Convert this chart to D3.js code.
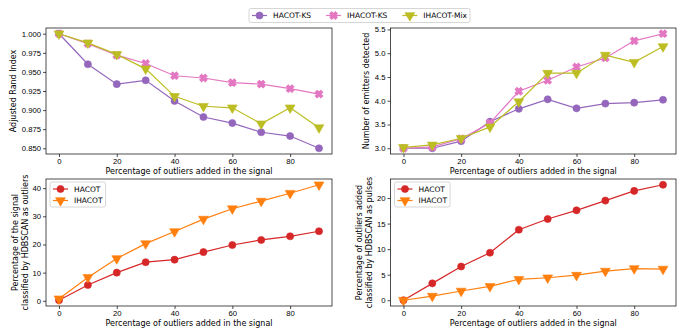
<!DOCTYPE html>
<html>
<head>
<meta charset="utf-8">
<script src="https://cdn.jsdelivr.net/npm/d3@7/dist/d3.min.js"></script>
<style>
  body { margin: 0; background: #fff; }
  svg { display: block; font-family: "DejaVu Sans", sans-serif; }
  .tick text { font-size: 7.7px; fill: #000; }
  .tick line { stroke: #000; stroke-width: 0.7; }
  .domain { display: none; }
  .label { font-size: 8px; fill: #000; }
  .leg text { font-size: 7.5px; fill: #000; }
</style>
</head>
<body>
<script>
var width = 682,
    height = 328;

// x values shared by all panels
var outlierPct = [0, 10, 20, 30, 40, 50, 60, 70, 80, 90];
var xTicks = [0, 20, 40, 60, 80];

// top left: adjusted rand index
var ariHacotKs  = [1.000, 0.960, 0.934, 0.939, 0.912, 0.891, 0.883, 0.871, 0.866, 0.850];
var ariIhacotKs = [1.000, 0.987, 0.972, 0.961, 0.945, 0.942, 0.936, 0.934, 0.928, 0.921];
var ariIhacotMix = [1.000, 0.988, 0.973, 0.954, 0.918, 0.905, 0.903, 0.882, 0.903, 0.877];
var ariTicks = [0.850, 0.875, 0.900, 0.925, 0.950, 0.975, 1.000];

// top right: number of emitters detected
var emHacotKs  = [3.00, 3.00, 3.15, 3.56, 3.83, 4.03, 3.84, 3.94, 3.96, 4.02];
var emIhacotKs = [3.00, 3.03, 3.20, 3.53, 4.20, 4.43, 4.71, 4.90, 5.26, 5.41];
var emIhacotMix = [3.02, 3.07, 3.21, 3.45, 3.98, 4.58, 4.58, 4.96, 4.81, 5.14];
var emTicks = [3.0, 3.5, 4.0, 4.5, 5.0, 5.5];

// bottom left: % of signal classified as outliers
var sigHacot  = [0.2, 5.6, 10.0, 13.7, 14.6, 17.3, 19.8, 21.6, 22.9, 24.7];
var sigIhacot = [0.7, 8.3, 15.0, 20.3, 24.6, 29.0, 32.7, 35.4, 38.2, 41.2];
var sigTicks = [0, 10, 20, 30, 40];

// bottom right: % of outliers classified as pulses
var pulHacot  = [0.0, 3.3, 6.6, 9.3, 13.8, 15.9, 17.6, 19.5, 21.4, 22.6];
var pulIhacot = [0.0, 0.8, 1.8, 2.7, 4.1, 4.4, 4.9, 5.7, 6.2, 6.1];
var pulTicks = [0, 5, 10, 15, 20];

var topSeries = ['HACOT-KS', 'IHACOT-KS', 'IHACOT-Mix'];
var bottomSeries = ['HACOT', 'IHACOT'];

var styles = {
    'HACOT-KS':   { color: '#9467bd', marker: 'o' },
    'IHACOT-KS':  { color: '#e377c2', marker: 'X' },
    'IHACOT-Mix': { color: '#bcbd22', marker: 'v' },
    'HACOT':      { color: '#d62728', marker: 'o' },
    'IHACOT':     { color: '#ff7f0e', marker: 'v' }
};

var xLabel = 'Percentage of outliers added in the signal';

var panels = [
    { box: [46, 28, 332, 154], series: topSeries, values: [ariHacotKs, ariIhacotKs, ariIhacotMix],
      yTicks: ariTicks, fmt: '.3f', yLabel: ['Adjusted Rand Index'], labelX: 13, legend: false },
    { box: [390.5, 28, 676, 154], series: topSeries, values: [emHacotKs, emIhacotKs, emIhacotMix],
      yTicks: emTicks, fmt: '.1f', yLabel: ['Number of emitters detected'], labelX: 366, legend: false },
    { box: [46, 179, 332, 306], series: bottomSeries, values: [sigHacot, sigIhacot],
      yTicks: sigTicks, fmt: 'd', yLabel: ['Percentage of the signal', 'classified by HDBSCAN as outliers'], labelX: 15, legend: true },
    { box: [390.5, 179, 676, 306], series: bottomSeries, values: [pulHacot, pulIhacot],
      yTicks: pulTicks, fmt: 'd', yLabel: ['Percentage of outliers added', 'classified by HDBSCAN as pulses'], labelX: 359, legend: true }
];

var svg = d3.select('body')
    .append('svg')
    .attr('width', width)
    .attr('height', height);

svg.append('rect')
    .attr('width', width)
    .attr('height', height)
    .attr('fill', '#fff');

function markerPath(type) {
    if (type === 'o') return d3.symbol(d3.symbolCircle, 40)();
    if (type === 'v') return d3.symbol(d3.symbolTriangle, 42)();
    return d3.symbol(d3.symbolCross, 34)();
}
function markerRotate(type) {
    if (type === 'v') return 180;
    if (type === 'X') return 45;
    return 0;
}

function drawMarker(g, name, x, y) {
    var s = styles[name];
    g.append('path')
        .attr('d', markerPath(s.marker))
        .attr('transform', 'translate(' + x + ',' + y + ') rotate(' + markerRotate(s.marker) + ')')
        .attr('fill', s.color)
        .attr('stroke', s.color)
        .attr('stroke-width', s.marker === 'X' ? 1 : 0.6);
}

function pad(ext) {
    var m = (ext[1] - ext[0]) * 0.05;
    return [ext[0] - m, ext[1] + m];
}

panels.forEach(function(p) {
    var x0 = p.box[0], y0 = p.box[1], x1 = p.box[2], y1 = p.box[3];
    var g = svg.append('g');

    var x = d3.scaleLinear()
        .domain(pad(d3.extent(outlierPct)))
        .range([x0, x1]);
    var y = d3.scaleLinear()
        .domain(pad(d3.extent(d3.merge(p.values))))
        .range([y1, y0]);

    g.append('g')
        .attr('transform', 'translate(0,' + y1 + ')')
        .call(d3.axisBottom(x).tickValues(xTicks).tickSize(3).tickPadding(2).tickFormat(d3.format('d')));
    g.append('g')
        .attr('transform', 'translate(' + x0 + ',0)')
        .call(d3.axisLeft(y).tickValues(p.yTicks).tickSize(3).tickPadding(2).tickFormat(d3.format(p.fmt)));

    var line = d3.line()
        .x(function(d, i) { return x(outlierPct[i]); })
        .y(function(d) { return y(d); });

    p.values.forEach(function(vals, k) {
        var name = p.series[k];
        g.append('path')
            .datum(vals)
            .attr('d', line)
            .attr('fill', 'none')
            .attr('stroke', styles[name].color)
            .attr('stroke-width', 1.2);
        vals.forEach(function(v, i) {
            drawMarker(g, name, x(outlierPct[i]), y(v));
        });
    });

    g.append('rect')
        .attr('x', x0)
        .attr('y', y0)
        .attr('width', x1 - x0)
        .attr('height', y1 - y0)
        .attr('fill', 'none')
        .attr('stroke', '#000')
        .attr('stroke-width', 0.7);

    g.append('text')
        .attr('class', 'label')
        .attr('x', (x0 + x1) / 2)
        .attr('y', y1 + 19.5)
        .attr('text-anchor', 'middle')
        .text(xLabel);

    var cy = (y0 + y1) / 2;
    p.yLabel.forEach(function(t, j) {
        g.append('text')
            .attr('class', 'label')
            .attr('transform', 'translate(' + (p.labelX + j * 10 + 3) + ',' + cy + ') rotate(-90)')
            .attr('text-anchor', 'middle')
            .text(t);
    });

    if (p.legend) {
        var leg = g.append('g').attr('class', 'leg');
        var lx = x0 + 4, ly = y0 + 3;
        var box = leg.append('rect')
            .attr('x', lx)
            .attr('y', ly)
            .attr('rx', 2)
            .attr('fill', '#fff')
            .attr('fill-opacity', 0.8)
            .attr('stroke', '#ccc')
            .attr('stroke-width', 0.8);
        var maxw = 0;
        p.series.forEach(function(name, j) {
            var yy = ly + 7 + j * 11.5;
            leg.append('line')
                .attr('x1', lx + 3).attr('x2', lx + 18)
                .attr('y1', yy).attr('y2', yy)
                .attr('stroke', styles[name].color)
                .attr('stroke-width', 1.2);
            drawMarker(leg, name, lx + 10.5, yy);
            var t = leg.append('text')
                .attr('x', lx + 24)
                .attr('y', yy + 2.8)
                .text(name);
            maxw = Math.max(maxw, t.node().getComputedTextLength());
        });
        box.attr('width', 24 + maxw + 3).attr('height', p.series.length * 11.5 + 2);
    }
});

// shared legend at the top
var topLeg = svg.append('g').attr('class', 'leg');
var tbox = topLeg.append('rect')
    .attr('x', 249)
    .attr('y', 8.5)
    .attr('height', 14)
    .attr('rx', 2)
    .attr('fill', '#fff')
    .attr('stroke', '#ccc')
    .attr('stroke-width', 0.8);
var cx = 249 + 3;
topSeries.forEach(function(name) {
    topLeg.append('line')
        .attr('x1', cx).attr('x2', cx + 15)
        .attr('y1', 15.5).attr('y2', 15.5)
        .attr('stroke', styles[name].color)
        .attr('stroke-width', 1.2);
    drawMarker(topLeg, name, cx + 7.5, 15.5);
    var t = topLeg.append('text')
        .attr('x', cx + 21)
        .attr('y', 18.3)
        .text(name);
    cx += 21 + t.node().getComputedTextLength() + 15;
});
tbox.attr('width', cx - 15 + 3 - 249);
</script>
</body>
</html>
